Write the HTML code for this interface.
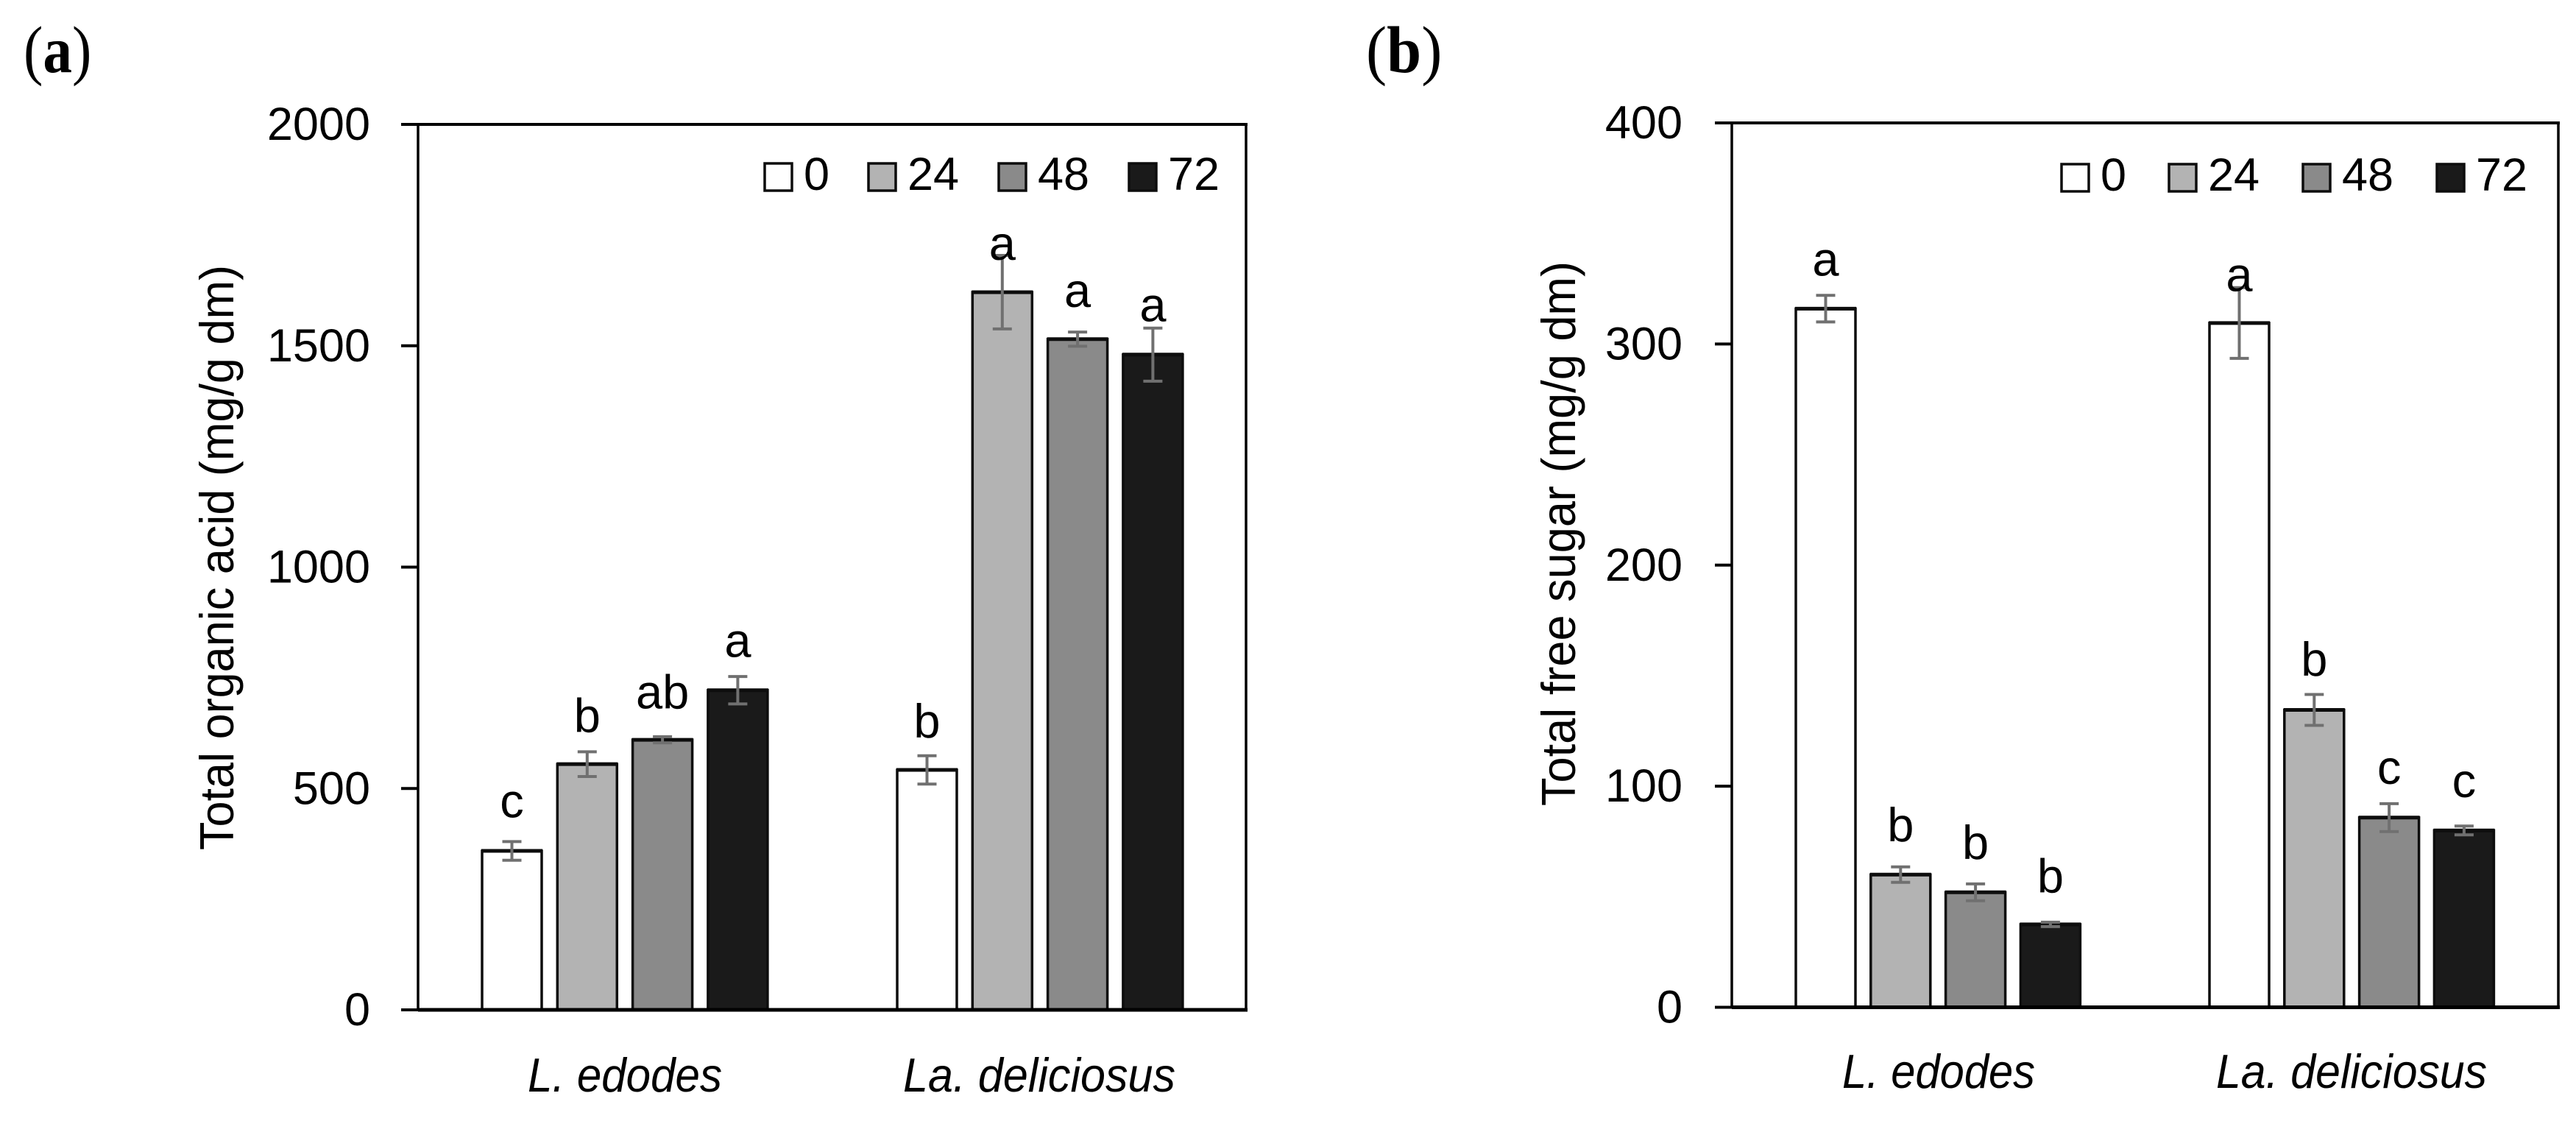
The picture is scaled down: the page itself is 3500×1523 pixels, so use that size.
<!DOCTYPE html>
<html lang="en">
<head>
<meta charset="utf-8">
<title>Total organic acid and total free sugar</title>
<style>
html,body{margin:0;padding:0;background:#fff;}
svg{display:block;font-family:"Liberation Sans",sans-serif;}
</style>
</head>
<body>
<svg id="figure" xmlns="http://www.w3.org/2000/svg" width="3500" height="1523" viewBox="0 0 3500 1523"></svg>
<script>
// ---- shared data ----
const categories = ["L. edodes", "La. deliciosus"];
const seriesNames = ["0", "24", "48", "72"];

// ---- panel (a): total organic acid ----
const acidTicks = [0, 500, 1000, 1500, 2000];
const acidValues = [[359, 555, 610, 722], [542, 1621, 1515, 1480]];
const acidErrors = [[21, 28, 7, 31], [32, 83, 16, 60]];
const acidLetters = [["c", "b", "ab", "a"], ["b", "a", "a", "a"]];
const acidLetterHeights = [[435, 628, 681, 797], [615, 1694, 1588, 1555]];

// ---- panel (b): total free sugar ----
const sugarTicks = [0, 100, 200, 300, 400];
const sugarValues = [[316, 60, 52, 37.5], [309.5, 134.5, 85.8, 80]];
const sugarErrors = [[6, 3.5, 3.8, 1], [16, 7, 6.3, 2]];
const sugarLetters = [["a", "b", "b", "b"], ["a", "b", "c", "c"]];
const sugarLetterHeights = [[331, 75, 67, 52], [324, 150, 101, 95]];

const seriesFills = ["#ffffff", "#b3b3b3", "#8a8a8a", "#1a1a1a"];
const NS = "http://www.w3.org/2000/svg";
const root = document.getElementById("figure");

function make(tag, parent, props, content) {
  const el = document.createElementNS(NS, tag);
  for (const k in props) el.setAttribute(k, props[k]);
  if (content !== undefined) el.textContent = content;
  parent.appendChild(el);
  return el;
}

function drawPanel(cfg) {
  const yScale = v => cfg.y0 - (v / cfg.yMax) * (cfg.y0 - cfg.yTop);
  const barX = (g, s) => cfg.groupX[g] + s * cfg.pitch;
  const barW = 81;

  const panel = make("g", root, {});
  
  

  const tag = make("text", panel, {
    transform: "translate(" + cfg.tagX + ",98) scale(" + cfg.tagScale + ",1)",
    "font-family": '"Liberation Serif",serif', "font-size": 90, fill: "#000"
  });
  
  
  make("tspan", tag, {}, "(");
  make("tspan", tag, {"font-weight": "bold"}, cfg.tag);
  make("tspan", tag, {}, ")");

  // y-axis title
  const title = make("text", panel, {
    transform: "translate(" + cfg.titleX + "," + cfg.titleBottom + ") rotate(-90)",
    x: 0, y: 0, "font-size": 65, fill: "#000",
    textLength: cfg.titleLen, lengthAdjust: "spacingAndGlyphs"
  }, cfg.title);
  
  

  // ticks and labels
  cfg.ticks.forEach(t => {
    const y = yScale(t);
    const tick = make("line", panel, {x1: cfg.x0 - 23, x2: cfg.x0, y1: y, y2: y, stroke: "#000", "stroke-width": 4});
    
    
    const label = make("text", panel, {x: cfg.tickLabelX, y: y + 21, "text-anchor": "end", "font-size": 63, fill: "#000"}, String(t));
    
    
  });

  // bars
  cfg.values.forEach((group, g) => {
    group.forEach((v, s) => {
      const top = yScale(v);
      const bar = make("rect", panel, {x: barX(g, s), y: top, width: barW, height: cfg.y0 - top, fill: seriesFills[s], stroke: "#0d0d0d", "stroke-width": 3.5});
      
      
      const cap = make("line", panel, {x1: barX(g, s) - 1, x2: barX(g, s) + barW + 1, y1: top, y2: top, stroke: "#0d0d0d", "stroke-width": 5});
      
      
    });
  });

  // error bars
  cfg.values.forEach((group, g) => {
    group.forEach((v, s) => {
      const cx = barX(g, s) + barW / 2;
      const hi = yScale(v + cfg.errors[g][s]);
      const lo = yScale(v - cfg.errors[g][s]);
      const err = make("path", panel, {
        d: "M" + (cx - 13) + " " + hi + "H" + (cx + 13) + "M" + cx + " " + hi + "V" + lo + "M" + (cx - 13) + " " + lo + "H" + (cx + 13),
        fill: "none", stroke: "#707070", "stroke-width": 4
      });
      
      
    });
  });

  // significance letters
  cfg.letters.forEach((group, g) => {
    group.forEach((txt, s) => {
      const letter = make("text", panel, {x: barX(g, s) + barW / 2, y: yScale(cfg.letterHeights[g][s]), "text-anchor": "middle", "font-size": 65, fill: "#000"}, txt);
      
      
    });
  });

  // frame
  const leftLine = make("line", panel, {x1: cfg.x0, x2: cfg.x0, y1: cfg.yTop, y2: cfg.y0, stroke: "#000", "stroke-width": 3.5});
  
  
  const rightLine = make("line", panel, {x1: cfg.x1, x2: cfg.x1, y1: cfg.yTop, y2: cfg.y0, stroke: "#000", "stroke-width": 3.5});
  
  
  const topLine = make("line", panel, {x1: cfg.x0, x2: cfg.x1 + 2, y1: cfg.yTop, y2: cfg.yTop, stroke: "#000", "stroke-width": 4});
  
  
  const baseLine = make("line", panel, {x1: cfg.x0, x2: cfg.x1 + 2, y1: cfg.y0, y2: cfg.y0, stroke: "#000", "stroke-width": 5});
  
  

  // category labels
  categories.forEach((c, g) => {
    const cat = make("text", panel, {x: cfg.catX[g], y: cfg.catY, "font-size": 65, "font-style": "italic", fill: "#000", textLength: cfg.catLen[g], lengthAdjust: "spacingAndGlyphs"}, c);
    
    
  });

  // legend
  const legend = make("g", panel, {});
  
  
  let lx = cfg.legendX;
  seriesNames.forEach((name, s) => {
    const sw = make("rect", legend, {x: lx, y: cfg.legendY, width: 37, height: 37, fill: seriesFills[s], stroke: "#0d0d0d", "stroke-width": 3.5});
    
    
    const lt = make("text", legend, {x: lx + 53, y: cfg.legendY + 36, "font-size": 63, fill: "#000"}, name);
    
    
    lx += 54 + name.length * 36 + cfg.legendGap;
  });
}

drawPanel({
  key: "acid", tag: "a", tagX: 32, tagScale: 0.88,
  title: "Total organic acid (mg/g dm)", titleX: 317, titleBottom: 1155, titleLen: 795,
  x0: 568, x1: 1693, yTop: 169, y0: 1372, yMax: 2000, tickLabelX: 503,
  ticks: acidTicks, values: acidValues, errors: acidErrors,
  letters: acidLetters, letterHeights: acidLetterHeights,
  groupX: [655, 1219], pitch: 102.3,
  catX: [717, 1227], catY: 1483, catLen: [264, 370],
  legendX: 1039, legendY: 222, legendGap: 51
});

drawPanel({
  key: "sugar", tag: "b", tagX: 1856, tagScale: 0.94,
  title: "Total free sugar (mg/g dm)", titleX: 2140, titleBottom: 1095, titleLen: 740,
  x0: 2353, x1: 3476, yTop: 167, y0: 1368.5, yMax: 400, tickLabelX: 2286,
  ticks: sugarTicks, values: sugarValues, errors: sugarErrors,
  letters: sugarLetters, letterHeights: sugarLetterHeights,
  groupX: [2440, 3002], pitch: 101.8,
  catX: [2503, 3011], catY: 1478, catLen: [262, 368],
  legendX: 2801, legendY: 223, legendGap: 56
});
</script>
</body>
</html>
